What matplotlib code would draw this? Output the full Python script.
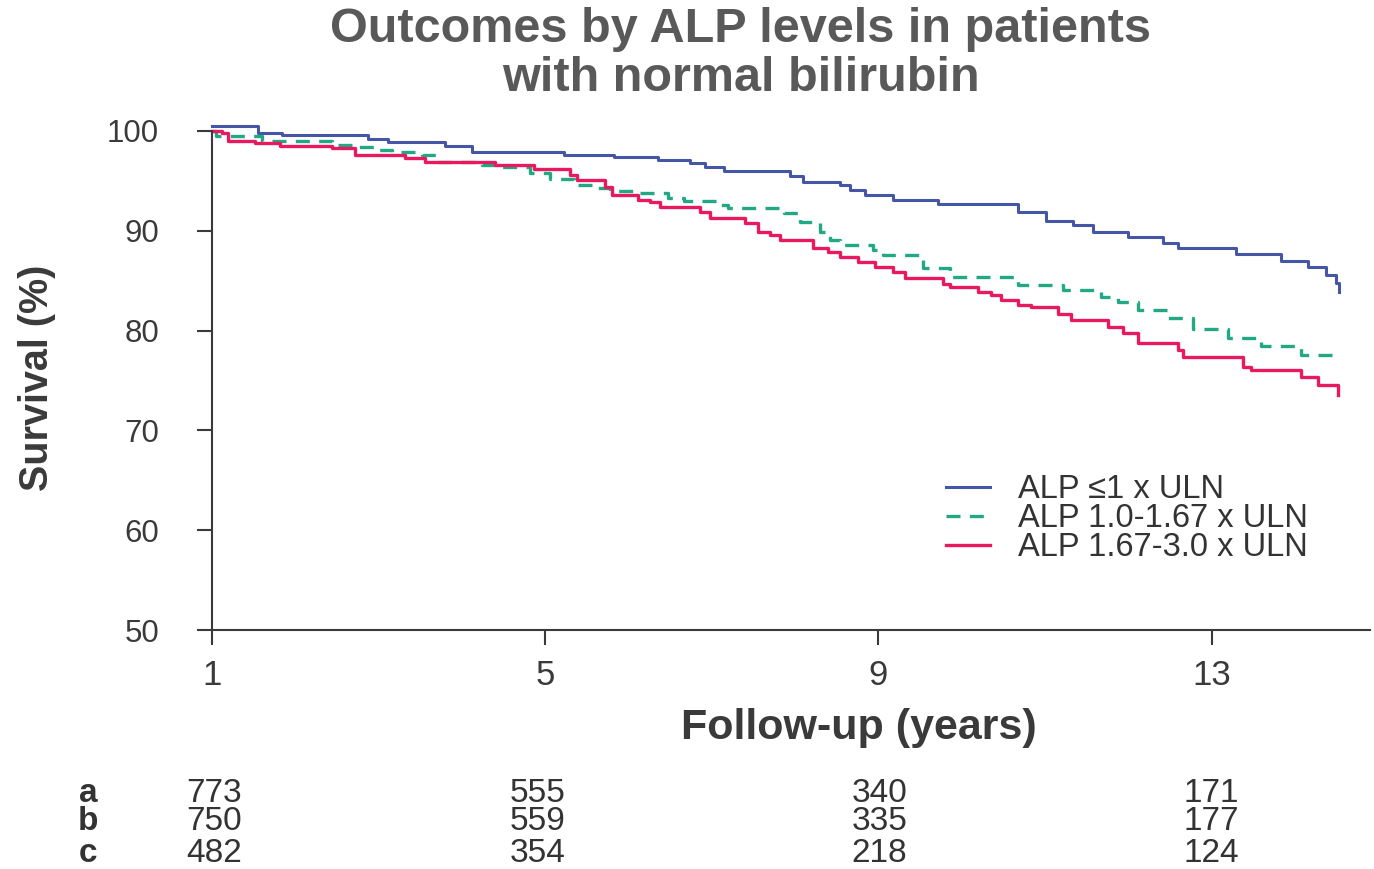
import matplotlib
matplotlib.use("Agg")
import matplotlib.pyplot as plt

# ---- data ----
years_a = [1.0, 1.55, 1.84, 2.87, 3.11, 3.80, 4.12, 5.22, 5.82, 6.35,
           6.74, 6.92, 7.14, 7.94, 8.10, 8.54, 8.66, 8.84, 9.18, 9.71,
           10.67, 11.01, 11.34, 11.58, 12.00, 12.42, 12.60, 13.29, 13.83, 14.15,
           14.37, 14.49, 14.53]
surv_a = [100.5, 99.8, 99.6, 99.2, 98.9, 98.5, 97.9, 97.6, 97.4, 97.1,
          96.8, 96.4, 96.0, 95.5, 94.9, 94.6, 94.1, 93.6, 93.1, 92.7,
          91.9, 91.0, 90.6, 89.9, 89.4, 88.8, 88.3, 87.7, 87.0, 86.4,
          85.6, 84.8, 83.9]

years_b = [1.0, 1.05, 1.60, 2.44, 2.72, 2.99, 3.16, 3.52, 3.71, 4.24,
           4.44, 4.82, 5.06, 5.34, 5.58, 5.78, 6.11, 6.47, 6.66, 7.10,
           7.19, 7.86, 8.06, 8.30, 8.42, 8.54, 8.94, 9.06, 9.54, 9.86,
           10.67, 11.22, 11.67, 11.88, 12.11, 12.48, 12.78, 13.19, 13.59, 14.07,
           14.45]
surv_b = [100.0, 99.5, 99.0, 98.6, 98.4, 98.1, 97.9, 97.6, 96.9, 96.6,
          96.4, 95.8, 95.2, 94.6, 94.3, 94.0, 93.8, 93.3, 93.0, 92.6,
          92.3, 91.8, 90.9, 89.9, 89.1, 88.6, 88.1, 87.6, 86.3, 85.4,
          84.6, 84.1, 83.4, 82.9, 82.1, 81.3, 80.2, 79.3, 78.5, 77.6,
          76.8]

years_c = [1.0, 1.12, 1.19, 1.52, 1.82, 2.44, 2.72, 3.32, 3.56, 4.40,
           4.86, 5.30, 5.38, 5.72, 5.80, 6.11, 6.26, 6.38, 6.86, 6.98,
           7.40, 7.55, 7.70, 7.82, 8.21, 8.40, 8.54, 8.76, 8.96, 9.18,
           9.32, 9.78, 9.86, 10.19, 10.35, 10.47, 10.67, 10.83, 11.15, 11.31,
           11.76, 11.93, 12.11, 12.59, 12.66, 13.38, 13.47, 14.07, 14.27, 14.51]
surv_c = [100.0, 99.8, 99.0, 98.8, 98.5, 98.3, 97.6, 97.3, 96.9, 96.6,
          96.2, 95.6, 95.1, 94.4, 93.6, 93.1, 92.9, 92.4, 91.9, 91.3,
          90.8, 89.9, 89.6, 89.1, 88.3, 87.9, 87.4, 86.9, 86.4, 85.9,
          85.3, 84.7, 84.4, 83.9, 83.6, 83.1, 82.6, 82.4, 81.7, 81.1,
          80.4, 79.8, 78.8, 78.1, 77.4, 76.4, 76.1, 75.4, 74.5, 73.5]

labels = ["ALP \u22641 x ULN", "ALP 1.0-1.67 x ULN", "ALP 1.67-3.0 x ULN"]
x_ticks = [1, 5, 9, 13]
y_ticks = [50, 60, 70, 80, 90, 100]
risk_groups = ["a", "b", "c"]
risk_a = [773, 555, 340, 171]
risk_b = [750, 559, 335, 177]
risk_c = [482, 354, 218, 124]

# ---- figure ----
W, H = 1374, 869
fig = plt.figure(figsize=(W / 100, H / 100), dpi=100)
fig.patch.set_facecolor("white")

def fx(px):
    return px / W

def fy(py):
    return 1 - py / H

ax = fig.add_axes([fx(212), fy(630), fx(1370) - fx(212), fy(131) - fy(630)])

c_blue = "#4656a6"
c_green = "#22a884"
c_red = "#e8195f"

ax.step(years_a, surv_a, where="post", color=c_blue, lw=2.2, clip_on=False, label=labels[0])
ax.step(years_b, surv_b, where="post", color=c_green, lw=2.4, dashes=(4.2, 2.8),
        clip_on=False, label=labels[1])
ax.step(years_c, surv_c, where="post", color=c_red, lw=2.4, clip_on=False, label=labels[2])

ax.set_xlim(1, 14.9)
ax.set_ylim(50, 100)
ax.set_xticks(x_ticks)
ax.set_yticks(y_ticks)
for s in ["top", "right"]:
    ax.spines[s].set_visible(False)
for s in ["left", "bottom"]:
    ax.spines[s].set_color("#3a3a3a")
    ax.spines[s].set_linewidth(1.5)
ax.tick_params(axis="both", direction="out", length=11, width=1.5, color="#3a3a3a",
               labelcolor="#3a3a3a", labelfontfamily="Liberation Sans")
ax.tick_params(axis="y", pad=27, labelsize=22.5)
ax.tick_params(axis="x", pad=10, labelsize=25)

leg = ax.legend(loc="upper left", bbox_to_anchor=(fx(946), fy(474)),
                bbox_transform=fig.transFigure, frameon=False,
                prop={"family": "Liberation Sans", "size": 23.5},
                handlelength=1.35, handletextpad=0.85, labelspacing=-0.06,
                borderpad=0, borderaxespad=0)
for t in leg.get_texts():
    t.set_color("#333333")

fig.text(fx(741), fy(54), "Outcomes by ALP levels in patients\nwith normal bilirubin",
         ha="center", va="center", fontsize=35, fontweight="bold",
         family="Liberation Sans", color="#595959", linespacing=1.1)

fig.text(fx(37), fy(378), "Survival (%)", rotation=90, ha="center", va="center",
         fontsize=28.5, fontweight="bold", family="Liberation Sans", color="#3a3a3a")
fig.text(fx(859), fy(728), "Follow-up (years)", ha="center", va="center",
         fontsize=31, fontweight="bold", family="Liberation Sans", color="#3a3a3a")

row_y = [793, 822, 853]
rows = [risk_a, risk_b, risk_c]
col_shift = [2, -8, 1, 0]
for g, vals, py in zip(risk_groups, rows, row_y):
    fig.text(fx(88), fy(py), g, ha="center", va="center", fontsize=24,
             fontweight="bold", family="Liberation Sans", color="#333333")
    for xv, v, sh in zip(x_ticks, vals, col_shift):
        xp = ax.transData.transform((xv, 50))[0]
        fig.text((xp + sh) / W, fy(py), str(v), ha="center", va="center",
                 fontsize=24, family="Liberation Sans", color="#333333")

fig.savefig("out.png", dpi=100, facecolor="white")
